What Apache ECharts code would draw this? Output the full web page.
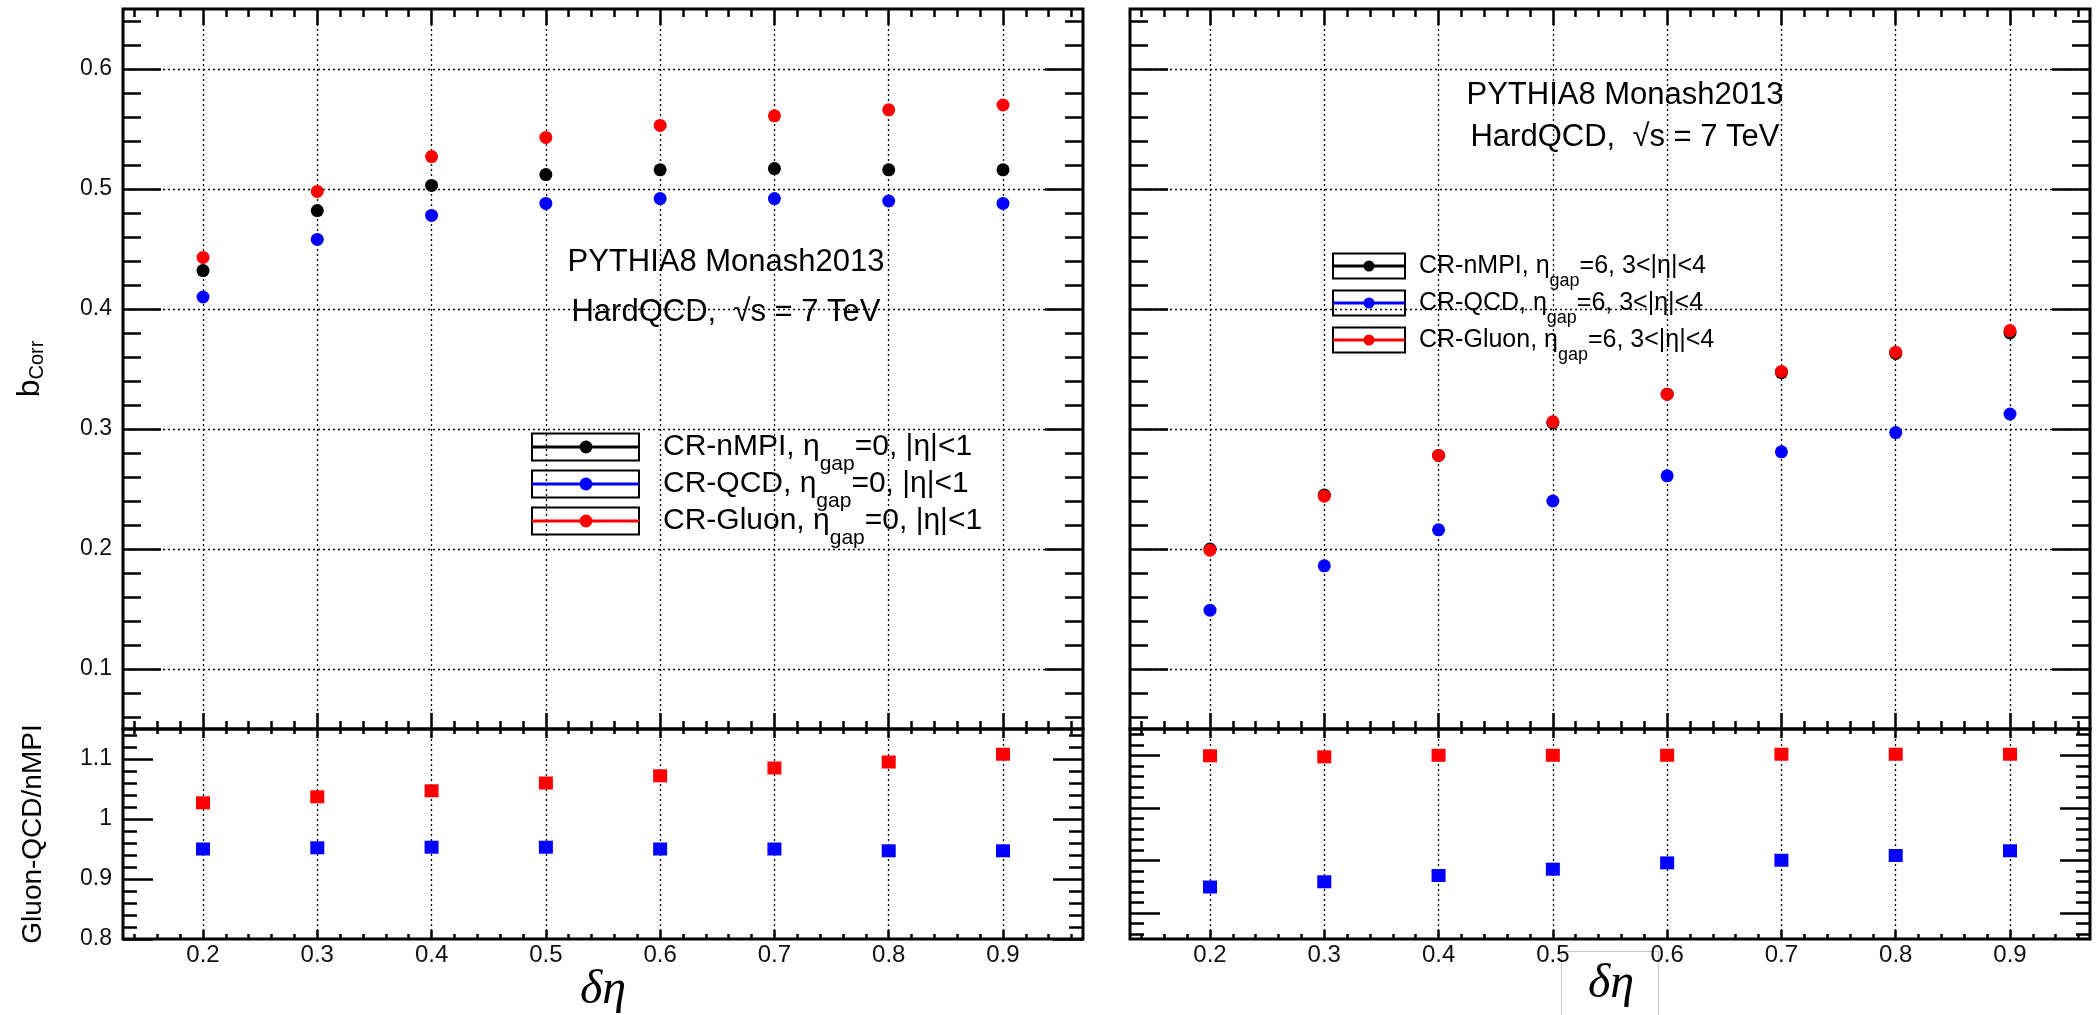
<!DOCTYPE html>
<html>
<head>
<meta charset="utf-8">
<script src="https://cdn.jsdelivr.net/npm/echarts@6/dist/echarts.min.js"></script>
<style>
html,body{margin:0;padding:0;background:#fff;}
#chart{width:2098px;height:1015px;}
</style>
</head>
<body>
<div id="chart"></div>
<script>
// ---------------- data ----------------
const xValues = [0.2, 0.3, 0.4, 0.5, 0.6, 0.7, 0.8, 0.9];
const xTickLabels = ['0.2', '0.3', '0.4', '0.5', '0.6', '0.7', '0.8', '0.9'];
const upperYTicks = [0.1, 0.2, 0.3, 0.4, 0.5, 0.6];
const upperYTickLabels = ['0.1', '0.2', '0.3', '0.4', '0.5', '0.6'];
const lowerLeftYTicks = [0.8, 0.9, 1.0, 1.1];
const lowerLeftYTickLabels = ['0.8', '0.9', '1', '1.1'];
const lowerRightYTicks = [0.7, 0.8, 0.9, 1.0];

// left panel: eta_gap = 0, |eta| < 1
const leftNMPI  = [0.432, 0.482, 0.503, 0.512, 0.516, 0.517, 0.516, 0.516];
const leftQCD   = [0.410, 0.458, 0.478, 0.488, 0.492, 0.492, 0.490, 0.488];
const leftGluon = [0.443, 0.498, 0.527, 0.543, 0.553, 0.561, 0.566, 0.570];
const leftRatioGluon = [1.027, 1.037, 1.047, 1.060, 1.072, 1.085, 1.095, 1.108];
const leftRatioQCD   = [0.950, 0.952, 0.953, 0.953, 0.950, 0.950, 0.947, 0.947];

// right panel: eta_gap = 6, 3 < |eta| < 4
const rightNMPI  = [0.200, 0.245, 0.278, 0.305, 0.329, 0.347, 0.363, 0.380];
const rightQCD   = [0.149, 0.186, 0.216, 0.240, 0.261, 0.281, 0.297, 0.3125];
const rightGluon = [0.199, 0.244, 0.278, 0.306, 0.329, 0.348, 0.364, 0.382];
const rightRatioGluon = [0.999, 0.997, 1.000, 1.000, 1.000, 1.002, 1.002, 1.002];
const rightRatioQCD   = [0.749, 0.759, 0.771, 0.783, 0.795, 0.800, 0.809, 0.818];

const seriesNames = ['CR-nMPI', 'CR-QCD', 'CR-Gluon'];
const leftCut = '=0, |η|<1';
const rightCut = '=6, 3<|η|<4';
const annotationLines = ['PYTHIA8 Monash2013', 'HardQCD,  √s = 7 TeV'];

// ---------------- styling / layout ----------------
const FONT = '"Liberation Sans", Arial, Helvetica, sans-serif';
const SERIF = '"Liberation Serif", "DejaVu Serif", serif';
const COLORS = ['#000000', '#0000ff', '#ff0000'];
const X_RANGE = [0.13, 0.97];
const UPPER_RANGE = [0.05, 0.65];
const LOWER_LEFT_RANGE = [0.8, 1.15];
const LOWER_RIGHT_RANGE = [0.65, 1.05];
const GRID_LINE = {color: '#000', width: 1.3, type: [2, 3]};

function minorTicks(lo, hi, step, majors) {
  const out = [];
  for (let k = Math.round(lo / step); k * step <= hi + 1e-9; k++) {
    const v = +(k * step).toFixed(4);
    if (!majors.some(m => Math.abs(m - v) < 1e-6)) out.push(v);
  }
  return out;
}
const xMinor = minorTicks(0.14, 0.96, 0.02, xValues);
const upperMinor = minorTicks(0.06, 0.64, 0.02, upperYTicks);
const lowerLeftMinor = minorTicks(0.82, 1.14, 0.02, lowerLeftYTicks);
const lowerRightMinor = minorTicks(0.66, 1.04, 0.02, lowerRightYTicks);

const grids = [
  {left: 123, top: 9, width: 960, height: 720},
  {left: 123, top: 729, width: 960, height: 210},
  {left: 1130, top: 9, width: 960, height: 720},
  {left: 1130, top: 729, width: 960, height: 210}
].map(g => Object.assign({show: true, borderColor: '#000', borderWidth: 3,
  backgroundColor: 'rgba(0,0,0,0)', outerBoundsMode: 'none', containLabel: false}, g));

const xAxes = [], yAxes = [];
function tickCfg(values, len) {
  return {show: true, inside: true, length: len, customValues: values,
    lineStyle: {color: '#000', width: 2.5}};
}
function addX(grid, pos, values, len, label, split, extra) {
  const a = {gridIndex: grid, type: 'value', min: X_RANGE[0], max: X_RANGE[1], splitNumber: 8,
    position: pos, axisLine: {show: false, onZero: false}, axisTick: tickCfg(values, len),
    axisLabel: label || {show: false},
    splitLine: split ? {show: true, lineStyle: GRID_LINE} : {show: false},
    nameMoveOverlap: false};
  if (extra) Object.assign(a, extra);
  xAxes.push(a);
  return xAxes.length - 1;
}
function addY(grid, pos, range, splitNumber, values, len, label, split, extra) {
  const a = {gridIndex: grid, type: 'value', min: range[0], max: range[1], splitNumber: splitNumber,
    position: pos, axisLine: {show: false, onZero: false}, axisTick: tickCfg(values, len),
    axisLabel: label || {show: false},
    splitLine: split ? {show: true, lineStyle: GRID_LINE} : {show: false},
    nameMoveOverlap: false};
  if (extra) Object.assign(a, extra);
  yAxes.push(a);
  return yAxes.length - 1;
}
function labelCfg(values, texts, size, margin) {
  return {show: true, customValues: values, margin: margin, color: '#111', fontSize: size,
    fontFamily: FONT, hideOverlap: false,
    formatter: v => {
      const i = values.findIndex(t => Math.abs(t - v) < 1e-6);
      return i >= 0 ? texts[i] : '';
    }};
}
const deltaEtaName = {
  name: 'δη', nameLocation: 'middle', nameGap: 26,
  nameTextStyle: {fontFamily: SERIF, fontStyle: 'italic', fontSize: 48, color: '#000', lineHeight: 50}
};

// grid 0 : left upper
const xL0 = addX(0, 'bottom', xValues, 16, null, true);
addX(0, 'bottom', xMinor, 8); addX(0, 'top', xValues, 16); addX(0, 'top', xMinor, 8);
const yL0 = addY(0, 'left', UPPER_RANGE, 6, upperYTicks, 38,
  labelCfg(upperYTicks, upperYTickLabels, 23, 11), true, {
    name: '{b|b}{c|Corr}', nameLocation: 'middle', nameRotate: 90, nameGap: 76,
    nameTextStyle: {color: '#000', rich: {
      b: {fontFamily: FONT, fontSize: 32, lineHeight: 34, color: '#000'},
      c: {fontFamily: FONT, fontSize: 20, lineHeight: 20, padding: [14, 0, 0, 0], color: '#000'}}}
  });
addY(0, 'left', UPPER_RANGE, 6, upperMinor, 18);
addY(0, 'right', UPPER_RANGE, 6, upperYTicks, 38); addY(0, 'right', UPPER_RANGE, 6, upperMinor, 18);

// grid 1 : left lower
const xL1 = addX(1, 'bottom', xValues, 9, labelCfg(xValues, xTickLabels, 24, 4), true, deltaEtaName);
addX(1, 'bottom', xMinor, 5); addX(1, 'top', xValues, 9); addX(1, 'top', xMinor, 5);
const yL1 = addY(1, 'left', LOWER_LEFT_RANGE, 4, lowerLeftYTicks, 30,
  labelCfg(lowerLeftYTicks, lowerLeftYTickLabels, 23, 11), false, {
    name: 'Gluon-QCD/nMPI', nameLocation: 'middle', nameRotate: 90, nameGap: 76,
    nameTextStyle: {fontFamily: FONT, fontSize: 28, color: '#000'}
  });
addY(1, 'left', LOWER_LEFT_RANGE, 4, lowerLeftMinor, 14);
addY(1, 'right', LOWER_LEFT_RANGE, 4, lowerLeftYTicks, 30); addY(1, 'right', LOWER_LEFT_RANGE, 4, lowerLeftMinor, 14);

// grid 2 : right upper
const xR0 = addX(2, 'bottom', xValues, 16, null, true);
addX(2, 'bottom', xMinor, 8); addX(2, 'top', xValues, 16); addX(2, 'top', xMinor, 8);
const yR0 = addY(2, 'left', UPPER_RANGE, 6, upperYTicks, 38, null, true);
addY(2, 'left', UPPER_RANGE, 6, upperMinor, 18);
addY(2, 'right', UPPER_RANGE, 6, upperYTicks, 38); addY(2, 'right', UPPER_RANGE, 6, upperMinor, 18);

// grid 3 : right lower
const xR1 = addX(3, 'bottom', xValues, 9, labelCfg(xValues, xTickLabels, 24, 4), true, {
  name: 'δη', nameLocation: 'middle', nameGap: 13,
  nameTextStyle: {fontFamily: SERIF, fontStyle: 'italic', fontSize: 48, color: '#000', lineHeight: 52,
    backgroundColor: '#fff', borderColor: '#c8c8c8', borderWidth: 1, padding: [6, 24, 6, 26]}
});
addX(3, 'bottom', xMinor, 5); addX(3, 'top', xValues, 9); addX(3, 'top', xMinor, 5);
const yR1 = addY(3, 'left', LOWER_RIGHT_RANGE, 4, lowerRightYTicks, 30, null, false);
addY(3, 'left', LOWER_RIGHT_RANGE, 4, lowerRightMinor, 14);
addY(3, 'right', LOWER_RIGHT_RANGE, 4, lowerRightYTicks, 30); addY(3, 'right', LOWER_RIGHT_RANGE, 4, lowerRightMinor, 14);

// ---------------- series ----------------
function pts(ys) { return xValues.map((x, i) => [x, ys[i]]); }
function sc(name, xi, yi, ys, color, symbol, size, z) {
  return {type: 'scatter', name: name, xAxisIndex: xi, yAxisIndex: yi, data: pts(ys),
    symbol: symbol, symbolSize: size, itemStyle: {color: color, opacity: 1}, z: z,
    silent: true, emphasis: {disabled: true}};
}
const CIRC = 13, SQ = [14, 13];
const series = [
  sc(seriesNames[0] + ', ηgap' + leftCut, xL0, yL0, leftNMPI, COLORS[0], 'circle', CIRC, 3),
  sc(seriesNames[1] + ', ηgap' + leftCut, xL0, yL0, leftQCD, COLORS[1], 'circle', CIRC, 4),
  sc(seriesNames[2] + ', ηgap' + leftCut, xL0, yL0, leftGluon, COLORS[2], 'circle', CIRC, 5),
  sc('QCD/nMPI left', xL1, yL1, leftRatioQCD, COLORS[1], 'rect', SQ, 4),
  sc('Gluon/nMPI left', xL1, yL1, leftRatioGluon, COLORS[2], 'rect', SQ, 5),
  sc(seriesNames[0] + ', ηgap' + rightCut, xR0, yR0, rightNMPI, COLORS[0], 'circle', CIRC, 3),
  sc(seriesNames[1] + ', ηgap' + rightCut, xR0, yR0, rightQCD, COLORS[1], 'circle', CIRC, 4),
  sc(seriesNames[2] + ', ηgap' + rightCut, xR0, yR0, rightGluon, COLORS[2], 'circle', CIRC, 5),
  sc('QCD/nMPI right', xR1, yR1, rightRatioQCD, COLORS[1], 'rect', SQ, 4),
  sc('Gluon/nMPI right', xR1, yR1, rightRatioGluon, COLORS[2], 'rect', SQ, 5)
];

// ---------------- legends & annotations (graphic) ----------------
const graphic = [];
function legend(boxX, boxW, boxH, rows, dotX, dotR, textX, fs, subFs, subPad, cut) {
  rows.forEach((cy, i) => {
    graphic.push({type: 'rect', shape: {x: boxX, y: cy - boxH / 2, width: boxW, height: boxH},
      style: {fill: 'none', stroke: '#000', lineWidth: 2}, z: 20, silent: true});
    graphic.push({type: 'line', shape: {x1: boxX, y1: cy, x2: boxX + boxW, y2: cy},
      style: {stroke: COLORS[i], lineWidth: 3}, z: 21, silent: true});
    graphic.push({type: 'circle', shape: {cx: dotX, cy: cy, r: dotR},
      style: {fill: COLORS[i]}, z: 22, silent: true});
    graphic.push({type: 'text', x: textX, y: cy, z: 22, silent: true, style: {
      text: '{t|' + seriesNames[i] + ', η}{s|gap}{t|' + cut + '}',
      verticalAlign: 'middle', align: 'left', fill: '#000',
      rich: {
        t: {fontFamily: FONT, fontSize: fs, lineHeight: fs + 2, fill: '#000'},
        s: {fontFamily: FONT, fontSize: subFs, lineHeight: subFs, padding: [subPad, 0, 0, 0], fill: '#000'}
      }}});
  });
}
legend(532, 107, 27, [447, 484, 521], 586, 6.5, 663, 30, 21, 34, leftCut);
legend(1333, 72, 25, [266, 303, 340], 1369, 5.5, 1419, 25, 18, 30, rightCut);

function annot(cx, ys, fs) {
  annotationLines.forEach((t, i) => {
    graphic.push({type: 'text', x: cx, y: ys[i], z: 22, silent: true, style: {
      text: t, fontFamily: FONT, fontSize: fs, fill: '#000', align: 'center', verticalAlign: 'middle'}});
  });
}
annot(726, [262, 312], 31);
annot(1625, [95, 137], 31);

// ---------------- chart ----------------
const chart = echarts.init(document.getElementById('chart'), null, {renderer: 'canvas'});
chart.setOption({
  backgroundColor: '#ffffff',
  animation: false,
  tooltip: {show: false},
  grid: grids,
  xAxis: xAxes,
  yAxis: yAxes,
  series: series,
  graphic: graphic
});
</script>
</body>
</html>
